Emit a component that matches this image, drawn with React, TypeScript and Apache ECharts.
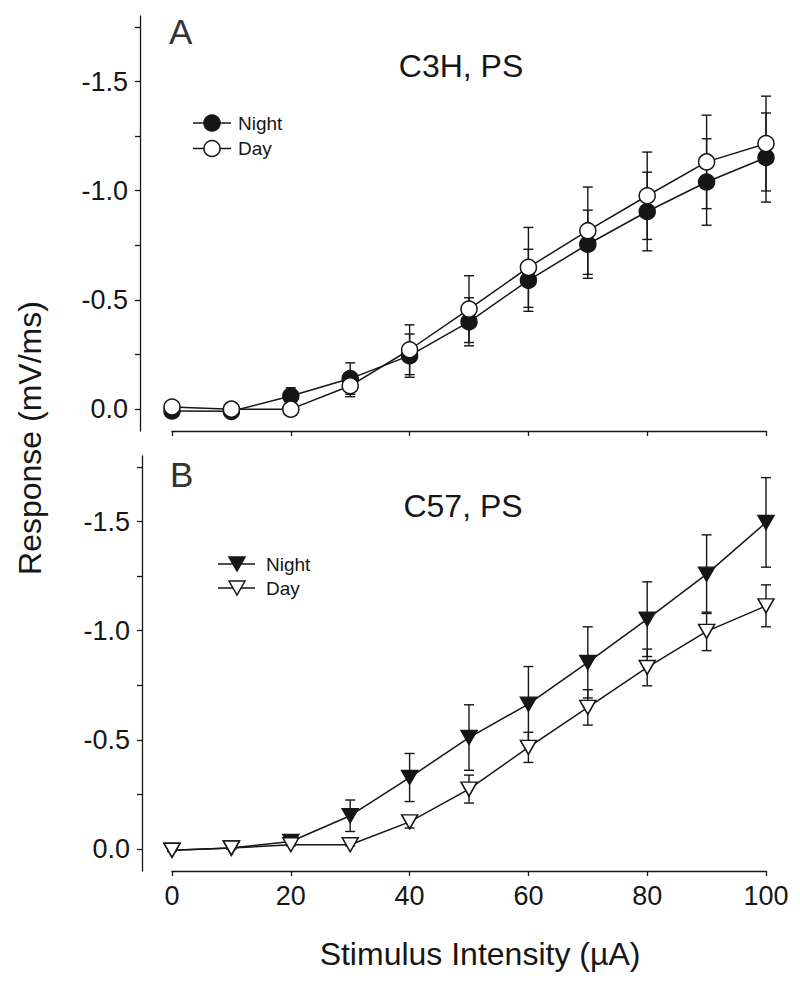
import React, { useEffect, useRef } from "react";
import * as echarts from "echarts";

// ---- Data ----
const xValues = [0, 10, 20, 30, 40, 50, 60, 70, 80, 90, 100];

// Panel A: C3H, PS
const c3hNight = [0.008, 0.01, -0.06, -0.14, -0.245, -0.4, -0.59, -0.755, -0.905, -1.04, -1.152];
const c3hNightSE = [0.005, 0.005, 0.038, 0.072, 0.099, 0.11, 0.142, 0.156, 0.18, 0.198, 0.204];
const c3hDay = [-0.01, 0.0, 0.0, -0.107, -0.272, -0.458, -0.649, -0.817, -0.977, -1.132, -1.216];
const c3hDaySE = [0.005, 0.005, 0.01, 0.05, 0.114, 0.153, 0.183, 0.2, 0.2, 0.214, 0.217];

// Panel B: C57, PS
const c57Night = [0.005, -0.005, -0.035, -0.153, -0.328, -0.511, -0.664, -0.855, -1.053, -1.259, -1.496];
const c57NightSE = [0.005, 0.005, 0.01, 0.072, 0.11, 0.15, 0.172, 0.163, 0.171, 0.18, 0.205];
const c57Day = [0.005, -0.005, -0.02, -0.02, -0.125, -0.275, -0.466, -0.649, -0.832, -0.997, -1.114];
const c57DaySE = [0.005, 0.005, 0.005, 0.005, 0.028, 0.064, 0.069, 0.081, 0.084, 0.088, 0.096];

const yTickValues = [-1.75, -1.5, -1.25, -1.0, -0.75, -0.5, -0.25, 0];
const yLabelValues = [-1.5, -1.0, -0.5, 0];
const panelLetters = ["A", "B"];
const panelTitles = ["C3H, PS", "C57, PS"];
const legendNames = ["Night", "Day"];
const xTitle = "Stimulus Intensity (\u00B5A)";
const yTitle = "Response (mV/ms)";

const FONT = "'Liberation Sans', Arial, Helvetica, sans-serif";
const INK = "#161616";

function fmt(v: number) {
  if (Math.abs(v) < 1e-9) return "0.0";
  return v.toFixed(1);
}

function errSeries(idx: number, vals: number[], se: number[], z: number) {
  return {
    type: "custom",
    xAxisIndex: idx,
    yAxisIndex: idx,
    silent: true,
    clip: false,
    z,
    encode: { x: 0, y: 1 },
    data: xValues.map((x, i) => [x, vals[i], se[i]]),
    renderItem: (params: any, api: any) => {
      const x = api.value(0);
      const y = api.value(1);
      const e = api.value(2);
      const t = api.coord([x, y - e]);
      const b = api.coord([x, y + e]);
      const w = 5;
      const st = { stroke: INK, lineWidth: 1.4 };
      return {
        type: "group",
        children: [
          { type: "line", shape: { x1: t[0], y1: t[1], x2: b[0], y2: b[1] }, style: st },
          { type: "line", shape: { x1: t[0] - w, y1: t[1], x2: t[0] + w, y2: t[1] }, style: st },
          { type: "line", shape: { x1: b[0] - w, y1: b[1], x2: b[0] + w, y2: b[1] }, style: st },
        ],
      };
    },
  };
}

function lineSeries(idx: number, name: string, vals: number[], filled: boolean, tri: boolean, z: number) {
  return {
    type: "line",
    name,
    xAxisIndex: idx,
    yAxisIndex: idx,
    silent: true,
    clip: false,
    z,
    data: xValues.map((x, i) => [x, vals[i]]),
    symbol: tri ? "triangle" : "circle",
    symbolSize: tri ? [16, 14] : 16,
    symbolRotate: tri ? 180 : 0,
    itemStyle: { color: filled ? INK : "#ffffff", borderColor: INK, borderWidth: 1.5 },
    lineStyle: { color: INK, width: 1.5 },
  };
}

function yAxis(idx: number, offset: number) {
  return {
    type: "value",
    gridIndex: idx,
    position: "left",
    min: -1.8,
    max: 0.1,
    inverse: true,
    offset,
    axisLine: { show: true, onZero: false, lineStyle: { color: INK, width: 1.3 } },
    axisTick: { show: true, length: 5, customValues: yTickValues, lineStyle: { color: INK, width: 1.3 } },
    axisLabel: {
      show: true,
      customValues: yLabelValues,
      formatter: (v: number) => fmt(v),
      fontSize: 27,
      fontFamily: FONT,
      color: INK,
      margin: 12,
    },
    splitLine: { show: false },
  };
}

function xAxis(idx: number, showLabels: boolean) {
  return {
    type: "value",
    gridIndex: idx,
    position: "bottom",
    min: 0,
    max: 100,
    interval: 20,
    axisLine: { show: true, onZero: false, lineStyle: { color: INK, width: 1.3 } },
    axisTick: { show: true, length: 5, lineStyle: { color: INK, width: 1.3 } },
    axisLabel: {
      show: showLabels,
      fontSize: 27,
      fontFamily: FONT,
      color: INK,
      margin: 11,
    },
    splitLine: { show: false },
  };
}

function legendGraphic(x0: number, x1: number, cx: number, tx: number, y: number, filled: boolean, tri: boolean, label: string) {
  const marker = tri
    ? {
        type: "polygon",
        shape: { points: [[cx - 8, y - 7], [cx + 8, y - 7], [cx, y + 7]] },
        style: { fill: filled ? INK : "#fff", stroke: INK, lineWidth: 1.5 },
      }
    : {
        type: "circle",
        shape: { cx, cy: y, r: 8 },
        style: { fill: filled ? INK : "#fff", stroke: INK, lineWidth: 1.5 },
      };
  return [
    { type: "line", shape: { x1: x0, y1: y, x2: x1, y2: y }, style: { stroke: INK, lineWidth: 1.5 } },
    marker,
    {
      type: "text",
      x: tx,
      y,
      style: { text: label, fontSize: 19, fontFamily: FONT, fill: INK, verticalAlign: "middle", align: "left" },
    },
  ];
}

export default function App() {
  const ref = useRef<HTMLDivElement>(null);
  useEffect(() => {
    if (!ref.current) return;
    const chart = echarts.init(ref.current, null, { renderer: "svg" });
    const option: any = {
      animation: false,
      backgroundColor: "#ffffff",
      grid: [
        { left: 172, right: 34, top: 16, height: 415 },
        { left: 172, right: 34, top: 456, height: 415 },
      ],
      xAxis: [xAxis(0, false), xAxis(1, true)],
      yAxis: [yAxis(0, 32), yAxis(1, 30)],
      series: [
        errSeries(0, c3hNight, c3hNightSE, 1),
        errSeries(0, c3hDay, c3hDaySE, 1),
        lineSeries(0, legendNames[0], c3hNight, true, false, 2),
        lineSeries(0, legendNames[1], c3hDay, false, false, 3),
        errSeries(1, c57Night, c57NightSE, 1),
        errSeries(1, c57Day, c57DaySE, 1),
        lineSeries(1, legendNames[0], c57Night, true, true, 2),
        lineSeries(1, legendNames[1], c57Day, false, true, 3),
      ],
      graphic: [
        { type: "text", x: 169, y: 31, style: { text: panelLetters[0], fontSize: 35, fontFamily: FONT, fill: "#333", verticalAlign: "middle" } },
        { type: "text", x: 170, y: 474, style: { text: panelLetters[1], fontSize: 35, fontFamily: FONT, fill: "#333", verticalAlign: "middle" } },
        { type: "text", x: 461, y: 66, style: { text: panelTitles[0], fontSize: 32, fontFamily: FONT, fill: INK, align: "center", verticalAlign: "middle" } },
        { type: "text", x: 463, y: 506, style: { text: panelTitles[1], fontSize: 32, fontFamily: FONT, fill: INK, align: "center", verticalAlign: "middle" } },
        { type: "text", x: 480, y: 954, style: { text: xTitle, fontSize: 32, fontFamily: FONT, fill: INK, align: "center", verticalAlign: "middle" } },
        { type: "text", x: 30, y: 438, rotation: Math.PI / 2, style: { text: yTitle, fontSize: 32, fontFamily: FONT, fill: INK, align: "center", verticalAlign: "middle" } },
        ...legendGraphic(193, 231, 212, 238, 123, true, false, legendNames[0]),
        ...legendGraphic(193, 231, 212, 238, 148.5, false, false, legendNames[1]),
        ...legendGraphic(218, 255, 237, 266, 564, true, true, legendNames[0]),
        ...legendGraphic(218, 255, 237, 266, 588, false, true, legendNames[1]),
      ],
    };
    chart.setOption(option);
    return () => chart.dispose();
  }, []);
  return <div ref={ref} style={{ width: 800, height: 985, position: "absolute", left: 0, top: 0 }} />;
}
